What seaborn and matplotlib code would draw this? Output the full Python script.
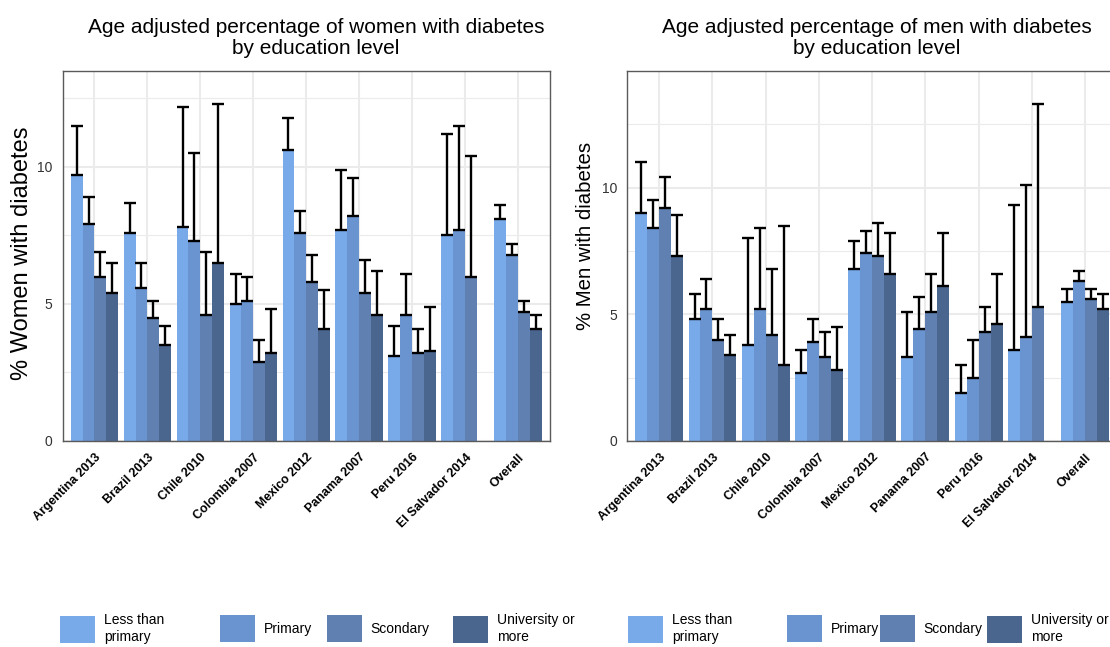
import numpy as np
import pandas as pd
import matplotlib
matplotlib.use("Agg")
import matplotlib.pyplot as plt
import seaborn as sns
from matplotlib.patches import Patch
from matplotlib.container import BarContainer
from matplotlib.ticker import MultipleLocator

categories = ["Argentina 2013", "Brazil 2013", "Chile 2010", "Colombia 2007",
              "Mexico 2012", "Panama 2007", "Peru 2016", "El Salvador 2014", "Overall"]
levels = ["Less than primary", "Primary", "Scondary", "University or more"]
legend_labels = ["Less than\nprimary", "Primary", "Scondary", "University or\nmore"]
colors = ["#78A9E8", "#6A94CF", "#5F80B0", "#4A668F"]

# Women: value and upper CI
women_less = [9.7, 7.6, 7.8, 5.0, 10.6, 7.7, 3.1, 7.5, 8.1]
women_less_up = [11.5, 8.7, 12.2, 6.1, 11.8, 9.9, 4.2, 11.2, 8.6]
women_prim = [7.9, 5.6, 7.3, 5.1, 7.6, 8.2, 4.6, 7.7, 6.8]
women_prim_up = [8.9, 6.5, 10.5, 6.0, 8.4, 9.6, 6.1, 11.5, 7.2]
women_sec = [6.0, 4.5, 4.6, 2.9, 5.8, 5.4, 3.2, 6.0, 4.7]
women_sec_up = [6.9, 5.1, 6.9, 3.7, 6.8, 6.6, 4.1, 10.4, 5.1]
women_uni = [5.4, 3.5, 6.5, 3.2, 4.1, 4.6, 3.3, np.nan, 4.1]
women_uni_up = [6.5, 4.2, 12.3, 4.8, 5.5, 6.2, 4.9, np.nan, 4.6]

# Men: value and upper CI
men_less = [9.0, 4.8, 3.8, 2.7, 6.8, 3.3, 1.9, 3.6, 5.5]
men_less_up = [11.0, 5.8, 8.0, 3.6, 7.9, 5.1, 3.0, 9.3, 6.0]
men_prim = [8.4, 5.2, 5.2, 3.9, 7.4, 4.4, 2.5, 4.1, 6.3]
men_prim_up = [9.5, 6.4, 8.4, 4.8, 8.3, 5.7, 4.0, 10.1, 6.7]
men_sec = [9.2, 4.0, 4.2, 3.3, 7.3, 5.1, 4.3, 5.3, 5.6]
men_sec_up = [10.4, 4.8, 6.8, 4.3, 8.6, 6.6, 5.3, 13.3, 6.0]
men_uni = [7.3, 3.4, 3.0, 2.8, 6.6, 6.1, 4.6, np.nan, 5.2]
men_uni_up = [8.9, 4.2, 8.5, 4.5, 8.2, 8.2, 6.6, np.nan, 5.8]


def build(vals, ups):
    rows = []
    for lvl, v, u in zip(levels, vals, ups):
        for c, a, b in zip(categories, v, u):
            rows.append({"country": c, "level": lvl, "value": a, "upper": b})
    return pd.DataFrame(rows)


df_w = build([women_less, women_prim, women_sec, women_uni],
             [women_less_up, women_prim_up, women_sec_up, women_uni_up])
df_m = build([men_less, men_prim, men_sec, men_uni],
             [men_less_up, men_prim_up, men_sec_up, men_uni_up])

sns.set_style("white")
plt.rcParams['font.family'] = ['Liberation Sans', 'DejaVu Sans']
plt.rcParams['text.color'] = 'black'
plt.rcParams['axes.labelcolor'] = 'black'

W, H = 1110, 647
fig = plt.figure(figsize=(W / 100, H / 100), dpi=100)

ax_l = fig.add_axes([62.7 / W, (H - 441) / H, (550 - 62.7) / W, (441 - 71) / H])
ax_r = fig.add_axes([627.3 / W, (H - 441) / H, (1117 - 627.3) / W, (441 - 71) / H])


def draw(ax, df, ylim, title, ylabel, title_x, ylab_size, ylab_xy):
    sns.barplot(data=df.dropna(subset=["value"]), x="country", y="value", hue="level",
                order=categories, hue_order=levels, palette=colors, width=0.9,
                errorbar=None, saturation=1, linewidth=0, legend=False, ax=ax)
    bar_conts = [c for c in ax.containers if isinstance(c, BarContainer)]
    for j, cont in enumerate(bar_conts):
        xs, ys, es = [], [], []
        for bar in cont:
            cx = bar.get_x() + bar.get_width() / 2
            top = bar.get_height()
            ci = int(round(cx))
            up = df[(df.country == categories[ci]) & (df.level == levels[j])]["upper"].iloc[0]
            xs.append(cx); ys.append(top); es.append(up - top)
        ax.errorbar(xs, ys, yerr=[np.zeros(len(es)), es], fmt="none", ecolor="black",
                    elinewidth=1.7, capsize=4.3, capthick=1.7, zorder=3)
    ax.set_xlim(-0.6, len(categories) - 0.4)
    ax.set_ylim(*ylim)
    ax.yaxis.set_major_locator(MultipleLocator(5))
    ax.yaxis.set_minor_locator(MultipleLocator(2.5))
    ax.set_axisbelow(True)
    ax.grid(which="major", color="#EBEBEB", lw=1.5)
    ax.grid(which="minor", axis="y", color="#EBEBEB", lw=0.8)
    ax.tick_params(which="minor", length=0)
    ax.tick_params(which="major", length=5.5, width=1, color="#555555", direction="out")
    ax.tick_params(axis="x", length=4.5)
    ax.tick_params(axis="y", labelsize=10, labelcolor="#333333", pad=2)
    ax.set_xticks(range(len(categories)))
    ax.set_xticklabels(categories, rotation=45, ha="right", rotation_mode="anchor",
                       fontsize=8.9, fontweight="bold", color="black")
    ax.tick_params(axis="x", pad=3)
    for s in ax.spines.values():
        s.set_visible(True)
        s.set_color("#5A5A5A")
        s.set_linewidth(1.0)
    ax.set_xlabel("")
    ax.set_ylabel(ylabel, fontsize=ylab_size, color="black")
    ax.yaxis.set_label_coords(*ylab_xy)
    ax.set_title(title, fontsize=15, x=title_x, pad=12, linespacing=1.15, color="black")


draw(ax_l, df_w, (0, 13.5),
     "Age adjusted percentage of women with diabetes\nby education level",
     "% Women with diabetes", 0.52, 17.0, (-0.061, 0.508))
draw(ax_r, df_m, (0, 14.6),
     "Age adjusted percentage of men with diabetes\nby education level",
     "% Men with diabetes", 0.51, 14.7, (-0.066, 0.554))

# legends (one entry each, two sets)
key_x = [[60, 220, 327, 453], [628, 787, 880, 987]]
for set_x in key_x:
    for lab, col, kx in zip(legend_labels, colors, set_x):
        fig.legend(handles=[Patch(facecolor=col, edgecolor="none")], labels=[lab],
                   loc="center left", bbox_to_anchor=(kx / W, (H - 628.5) / H),
                   frameon=False, borderpad=0, borderaxespad=0, fontsize=10,
                   handlelength=2.5, handleheight=2.65, handletextpad=0.65,
                   labelspacing=0, labelcolor="black")

fig.savefig("out.png", dpi=100)
